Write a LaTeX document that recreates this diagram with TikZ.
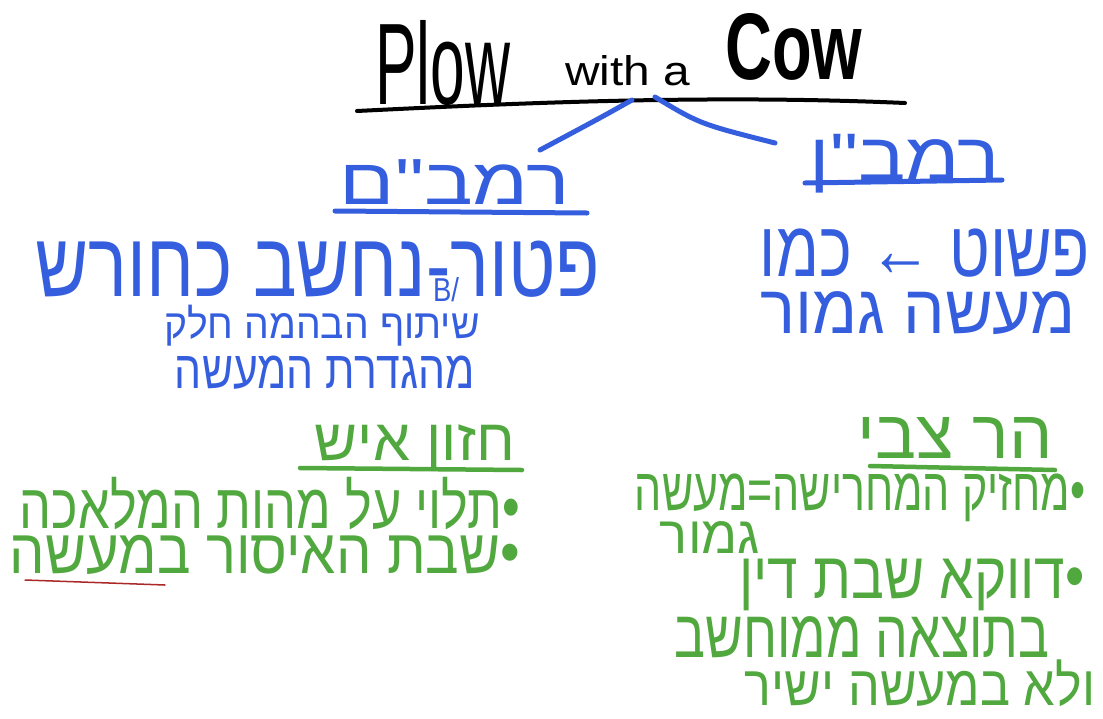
\documentclass[tikz,border=0pt]{standalone}
\usepackage{fontspec}
\usepackage{graphicx}
\setmainfont{Liberation Sans}
\newfontfamily\hebfont[Script=Hebrew]{Liberation Sans}
\TeXXeTstate=1
\definecolor{pblue}{RGB}{52,94,222}
\definecolor{pgreen}{RGB}{80,168,62}
\definecolor{pred}{RGB}{170,40,40}
% #1 width in pt, #2 vertical stretch, #3 text
\newcommand{\hebline}[3]{\scalebox{1}[#2]{\resizebox{#1pt}{!}{\hebfont #3}}}
\tikzset{
  blueink/.style={draw=pblue, line width=5pt, line cap=round},
  greenink/.style={draw=pgreen, line width=4.5pt, line cap=round},
  hebblue/.style={text=pblue, inner sep=0pt, anchor=base},
  hebgreen/.style={text=pgreen, inner sep=0pt, anchor=base},
  titletext/.style={inner sep=0pt, anchor=south west},
}
\begin{document}
\begin{tikzpicture}[x=1pt,y=-1pt]
\useasboundingbox (0,0) rectangle (1103,718);
\fill[white] (0,0) rectangle (1103,718);

% title
\node[titletext] (plow) at (375,106) {\resizebox{135pt}{84pt}{Plow}};
\node[titletext] (with) at (565,86) {\resizebox{125pt}{30pt}{with a}};
\node[titletext] (cow) at (725,81) {\resizebox{137pt}{66pt}{\bfseries Cow}};
\coordinate (ulL) at (357,111);
\coordinate (ulR) at (905,103);
\draw[line width=4pt, line cap=round] (ulL) .. controls (500,104) and (700,94) .. (ulR);

% branches
\coordinate (brL) at (632,100);
\coordinate (brR) at (655,97);
\coordinate (endL) at (540,150);
\coordinate (endR) at (775,143);
\draw[blueink] (brL) .. controls (600,118) .. (endL);
\draw[blueink] (brR) .. controls (700,124) .. (endR);

% Rambam
\node[hebblue] (rambam) at (455,204) {\hebline{230}{0.8}{\beginR רמב"ם\endR}};
\draw[blueink] (335,211) -- (587,213);
\node[hebblue] (l1) at (318,296) {\hebline{565}{1.25}{\beginR פטור-נחשב כחורש\endR}};
\node[text=pblue, inner sep=0pt] (bmark) at (446,290) {\resizebox{26pt}{24pt}{B/}};
\node[hebblue] (l2) at (322,338) {\hebline{315}{1.05}{\beginR שיתוף הבהמה חלק\endR}};
\node[hebblue] (l3) at (325,388) {\hebline{300}{1.25}{\beginR מהגדרת המעשה\endR}};

% Ramban
\node[hebblue] (ramban) at (905,180) {\hebline{190}{0.85}{\beginR רמב"ן\endR}};
\draw[blueink] (805,183) -- (1002,180);
\node[hebblue] (r1) at (925,276) {\hebline{330}{1.25}{\beginR פשוט ← כמו\endR}};
\node[hebblue] (r2) at (918,333) {\hebline{315}{1.05}{\beginR מעשה גמור\endR}};

% Chazon Ish
\node[hebgreen] (chazon) at (415,460) {\hebline{200}{1}{\beginR חזון איש\endR}};
\draw[greenink] (300,468) -- (522,470);
\node[hebgreen] (c1) at (270,528) {\hebline{500}{1.25}{\beginR •תלוי על מהות המלאכה\endR}};
\node[hebgreen] (c2) at (265,573) {\hebline{510}{1.12}{\beginR •שבת האיסור במעשה\endR}};
\draw[draw=pred, line width=1.5pt, line cap=round] (25,580) -- (165,585);

% Har Tzvi
\node[hebgreen] (hartzvi) at (955,458) {\hebline{195}{1}{\beginR הר צבי\endR}};
\draw[greenink] (870,466) -- (1055,470);
\node[hebgreen] (h1) at (860,510) {\hebline{450}{1.4}{\beginR •מחזיק המחרישה=מעשה\endR}};
\node[hebgreen] (h2) at (710,553) {\hebline{100}{1}{\beginR גמור\endR}};
\node[hebgreen] (h3) at (912,598) {\hebline{345}{1.2}{\beginR •דווקא שבת דין\endR}};
\node[hebgreen] (h4) at (862,657) {\hebline{375}{1.3}{\beginR בתוצאה ממוחשב\endR}};
\node[hebgreen] (h5) at (920,705) {\hebline{350}{1.12}{\beginR ולא במעשה ישיר\endR}};
\end{tikzpicture}
\end{document}
